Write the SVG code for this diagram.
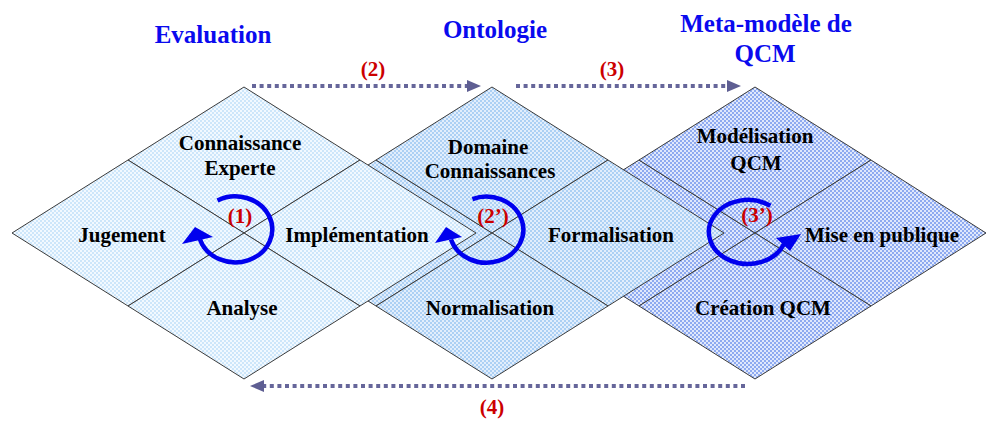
<svg xmlns="http://www.w3.org/2000/svg" width="987" height="421" viewBox="0 0 987 421">
<style>
.q{stroke:#3c3c3c;stroke-width:1;stroke-linejoin:miter}
.q1{fill:url(#p1)}
.q2{fill:url(#p2)}
.q3{fill:url(#p3)}
.lbl{font-family:"Liberation Serif","Times New Roman",serif;font-weight:bold;font-size:21px;fill:#000;text-anchor:middle}
.ttl{font-family:"Liberation Serif","Times New Roman",serif;font-weight:bold;font-size:25px;fill:#0a0aee;text-anchor:middle}
.num{font-family:"Liberation Serif","Times New Roman",serif;font-weight:bold;font-size:21px;fill:#cc0000;text-anchor:middle}
.dot{fill:none;stroke:#66669a;stroke-width:4;stroke-dasharray:4 3.6}
.head{fill:#5e5e92}
.ring{fill:none;stroke:#0000ee;stroke-width:4.5}
.rhead{fill:#0000ee}
</style>
<defs>
<pattern id="p1" width="4" height="4" patternUnits="userSpaceOnUse"><rect width="4" height="4" fill="#f2f9ff"/><rect width="2" height="2" fill="#cde6fa"/><rect x="2" y="2" width="2" height="2" fill="#cde6fa"/></pattern>
<pattern id="p2" width="4" height="4" patternUnits="userSpaceOnUse"><rect width="4" height="4" fill="#e2eefc"/><rect width="2" height="2" fill="#acd0f4"/><rect x="2" y="2" width="2" height="2" fill="#acd0f4"/></pattern>
<pattern id="p3" width="4" height="4" patternUnits="userSpaceOnUse"><rect width="4" height="4" fill="#e0e8fc"/><rect width="2" height="2" fill="#8eaaf0"/><rect x="2" y="2" width="2" height="2" fill="#8eaaf0"/></pattern>
</defs>

<g id="titles">
<text class="ttl" x="213" y="43">Evaluation</text>
<text class="ttl" x="495" y="38">Ontologie</text>
<text class="ttl" x="766" y="32">Meta-modèle de</text>
<text class="ttl" x="765" y="62">QCM</text>
</g>

<g id="meta-modele-qcm">
<g id="d3-left"><polygon class="q q3" points="523,233 639,160 755,233 639,306"/></g>
<g id="d3-modelisation"><polygon class="q q3" points="755,87 871,160 755,233 639,160"/><text class="lbl" x="755" y="143">Modélisation</text><text class="lbl" x="756" y="170">QCM</text></g>
<g id="d3-mise-en-publique"><polygon class="q q3" points="755,233 871,160 986,233 871,306"/><text class="lbl" x="882" y="242">Mise en publique</text></g>
<g id="d3-creation"><polygon class="q q3" points="755,233 871,306 755,379 639,306"/><text class="lbl" x="763" y="315">Création QCM</text></g>
</g>

<g id="ontologie">
<g id="d2-left"><polygon class="q q2" points="260,233 376,160 492,233 376,306"/></g>
<g id="d2-domaine"><polygon class="q q2" points="492,87 608,160 492,233 376,160"/><text class="lbl" x="488" y="154">Domaine</text><text class="lbl" x="490" y="178">Connaissances</text></g>
<g id="d2-formalisation"><polygon class="q q2" points="492,233 608,160 724,233 608,306"/><text class="lbl" x="611" y="242">Formalisation</text></g>
<g id="d2-normalisation"><polygon class="q q2" points="492,233 608,306 492,379 376,306"/><text class="lbl" x="490" y="315">Normalisation</text></g>
</g>

<g id="evaluation">
<g id="d1-connaissance"><polygon class="q q1" points="244,87 360,160 244,233 128,160"/><text class="lbl" x="240" y="150">Connaissance</text><text class="lbl" x="240" y="175">Experte</text></g>
<g id="d1-jugement"><polygon class="q q1" points="12,233 128,160 244,233 128,306"/><text class="lbl" x="122" y="242">Jugement</text></g>
<g id="d1-implementation"><polygon class="q q1" points="244,233 360,160 476,233 360,306"/><text class="lbl" x="357" y="242">Implémentation</text></g>
<g id="d1-analyse"><polygon class="q q1" points="244,233 360,306 244,379 128,306"/><text class="lbl" x="242" y="315">Analyse</text></g>
</g>

<g id="connectors">
<line class="dot" x1="252" y1="86" x2="467" y2="86"/>
<polygon class="head" points="467,80 481,86 467,92"/>
<text class="num" x="373" y="76">(2)</text>
<line class="dot" x1="516" y1="86" x2="727" y2="86"/>
<polygon class="head" points="727,80 741,86 727,92"/>
<text class="num" x="612" y="76">(3)</text>
<line class="dot" x1="745" y1="386" x2="264" y2="386"/>
<polygon class="head" points="264,380 250,386 264,392"/>
<text class="num" x="492" y="414">(4)</text>

<path class="ring" d="M217.5 200.4 A37 33 0 1 1 200 239.5"/>
<polygon class="rhead" points="182,244 195,227 213,237"/>
<text class="num" x="240" y="223">(1)</text>

<path class="ring" d="M472.4 199.1 A37 33 0 1 1 451 239.5"/>
<polygon class="rhead" points="435,243 446,227 462,237"/>
<text class="num" x="493" y="223">(2’)</text>

<path class="ring" d="M770.4 205.8 A39 32 0 1 0 784 244"/>
<polygon class="rhead" points="776,238 801,234 790,251"/>
<text class="num" x="757" y="222">(3’)</text>
</g>
</svg>
